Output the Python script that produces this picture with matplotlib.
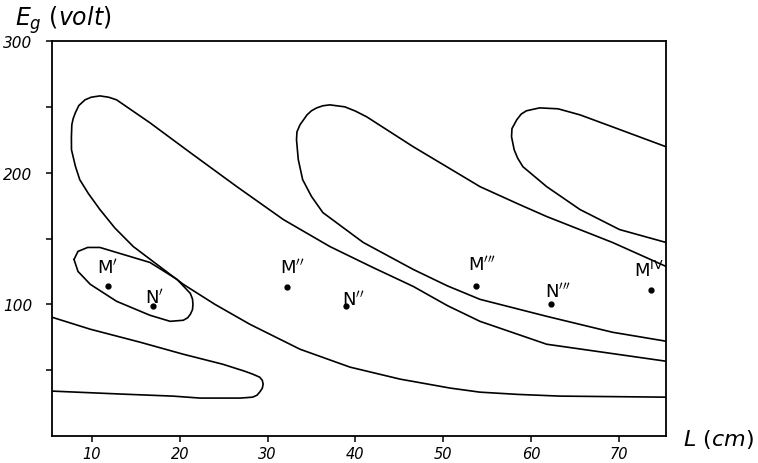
import numpy as np
import matplotlib.pyplot as plt

# curves (L in cm, Eg in volt)
tongue_L = [5.44, 9.8, 15.5, 20.4, 24.9, 27.4, 28.3, 29.1, 29.4, 29.5, 29.4, 29.1, 28.8, 28.3, 26.9, 22.3,
            19.2, 13.5, 5.44]
tongue_E = [90.2, 81.1, 71.2, 62.1, 54.5, 49.2, 47.0, 44.7, 42.3, 39.4, 36.2, 33.3, 31.0, 29.5, 28.8, 28.8,
            30.3, 31.8, 34.1]

loop1_L = [75.4, 63.3, 58.5, 54.2, 50.8, 45.1, 39.4, 33.7, 28.0, 24.0, 20.4, 14.7, 12.6, 10.9, 9.6, 8.6, 8.1,
           7.66, 7.65, 7.7, 7.85, 8.1, 8.5, 9.2, 9.9, 10.9, 11.9, 12.8, 16.6, 21.2, 26.5, 31.8, 37.1, 42.0,
           46.6, 50.5, 54.2, 61.8, 75.4]
loop1_E = [29.5, 30.3, 31.6, 33.3, 36.4, 43.2, 52.3, 65.9, 84.8, 100.0, 115.2, 143.9, 158.0, 172.0, 184.0,
           194.7, 205.0, 217.4, 227.0, 236.4, 241.0, 245.5, 251.0, 255.3, 257.3, 258.3, 257.3, 255.3, 237.9,
           215.2, 189.4, 164.4, 143.9, 128.0, 113.6, 99.0, 87.1, 69.7, 56.8]

loop2_L = [75.4, 69.3, 61.8, 54.2, 50.5, 46.6, 40.9, 36.3, 35.0, 34.0, 33.5, 33.3, 33.35, 33.7, 34.5, 35.0,
           35.6, 36.3, 37.1, 38.8, 40.0, 41.3, 46.6, 52.3, 54.2, 58.7, 61.8, 69.3, 75.4]
loop2_E = [72.0, 78.8, 90.9, 103.8, 114.0, 126.5, 147.0, 169.7, 182.0, 194.7, 210.0, 225.0, 231.0, 236.4,
           243.9, 247.0, 249.2, 250.8, 251.5, 250.0, 246.8, 242.4, 219.7, 197.0, 189.4, 175.8, 166.7, 147.0, 128.8]

loop3_L = [75.4, 70.1, 65.6, 61.8, 59.1, 58.5, 58.1, 57.8, 57.85, 58.4, 58.9, 59.5, 61.0, 63.1, 65.6, 69.3, 75.4]
loop3_E = [147.0, 156.8, 172.0, 189.4, 204.5, 211.0, 217.4, 227.3, 233.5, 240.2, 244.5, 247.0, 249.2, 248.5,
           243.9, 234.8, 219.7]

oval_L = [7.95, 8.4, 9.5, 10.9, 12.8, 16.6, 19.7, 21.2, 21.45, 21.5, 21.45, 21.2, 20.9, 20.4, 18.9, 16.6,
          12.8, 9.8, 8.4, 7.95]
oval_E = [134.1, 140.2, 143.2, 143.2, 139.4, 131.8, 118.9, 108.3, 104.0, 100.0, 96.0, 92.4, 89.8, 87.9, 87.1,
          91.7, 102.3, 115.2, 125.0, 134.1]

# marked points
M_L = [11.8, 32.2, 53.7, 73.7]
M_E = [113.6, 112.9, 113.6, 110.6]
M_names = [r"M$^{\prime}$", r"M$^{\prime\prime}$", r"M$^{\prime\prime\prime}$", r"M$^{\mathregular{IV}}$"]
N_L = [16.9, 38.9, 62.3]
N_E = [98.5, 98.5, 100.0]
N_names = [r"N$^{\prime}$", r"N$^{\prime\prime}$", r"N$^{\prime\prime\prime}$"]

xticks = [10, 20, 30, 40, 50, 60, 70]
yticks = [100, 200, 300]

fig = plt.figure(figsize=(7.58, 4.64), dpi=100)
ax = fig.add_axes([52 / 758, 27 / 464, 614 / 758, 395 / 464])

for xs, ys in [(tongue_L, tongue_E), (loop1_L, loop1_E), (loop2_L, loop2_E),
               (loop3_L, loop3_E), (oval_L, oval_E)]:
    ax.plot(xs, ys, color="black", lw=1.2, solid_joinstyle="round", solid_capstyle="round")

ax.plot(M_L, M_E, "o", color="black", ms=3.5)
ax.plot(N_L, N_E, "o", color="black", ms=3.5)

# label offsets in pixels (left edge, baseline) relative to the dot
m_off = [(-11, 14), (-7, 15), (-8, 17), (-17, 14)]
n_off = [(-8, 4), (-4, 2), (-6, 8)]
for name, x, y, off in zip(M_names, M_L, M_E, m_off):
    ax.annotate(name, (x, y), xytext=off, textcoords="offset pixels",
                ha="left", va="baseline", fontsize=13)
for name, x, y, off in zip(N_names, N_L, N_E, n_off):
    ax.annotate(name, (x, y), xytext=off, textcoords="offset pixels",
                ha="left", va="baseline", fontsize=13)

ax.set_xlim(5.44, 75.4)
ax.set_ylim(0, 300)
ax.set_xticks(xticks)
ax.set_xticklabels([str(t) for t in xticks], fontstyle="italic", fontsize=10.5)
ax.set_yticks(yticks)
ax.set_yticklabels([str(t) for t in yticks], fontstyle="italic", fontsize=11)
ax.set_yticks([50, 150, 250], minor=True)
ax.tick_params(axis="both", which="both", direction="out", length=4, width=1.1, color="black")
ax.tick_params(axis="x", pad=3)
ax.tick_params(axis="y", pad=10)
for s in ax.spines.values():
    s.set_linewidth(1.3)

fig.text(15 / 758, 1 - 20 / 464, r"$E_g\ (volt)$", fontsize=17, va="center", ha="left")
fig.text(683 / 758, 1 - 440 / 464, r"$L\ (cm)$", fontsize=16, va="center", ha="left")

fig.savefig("out.png", dpi=100)
